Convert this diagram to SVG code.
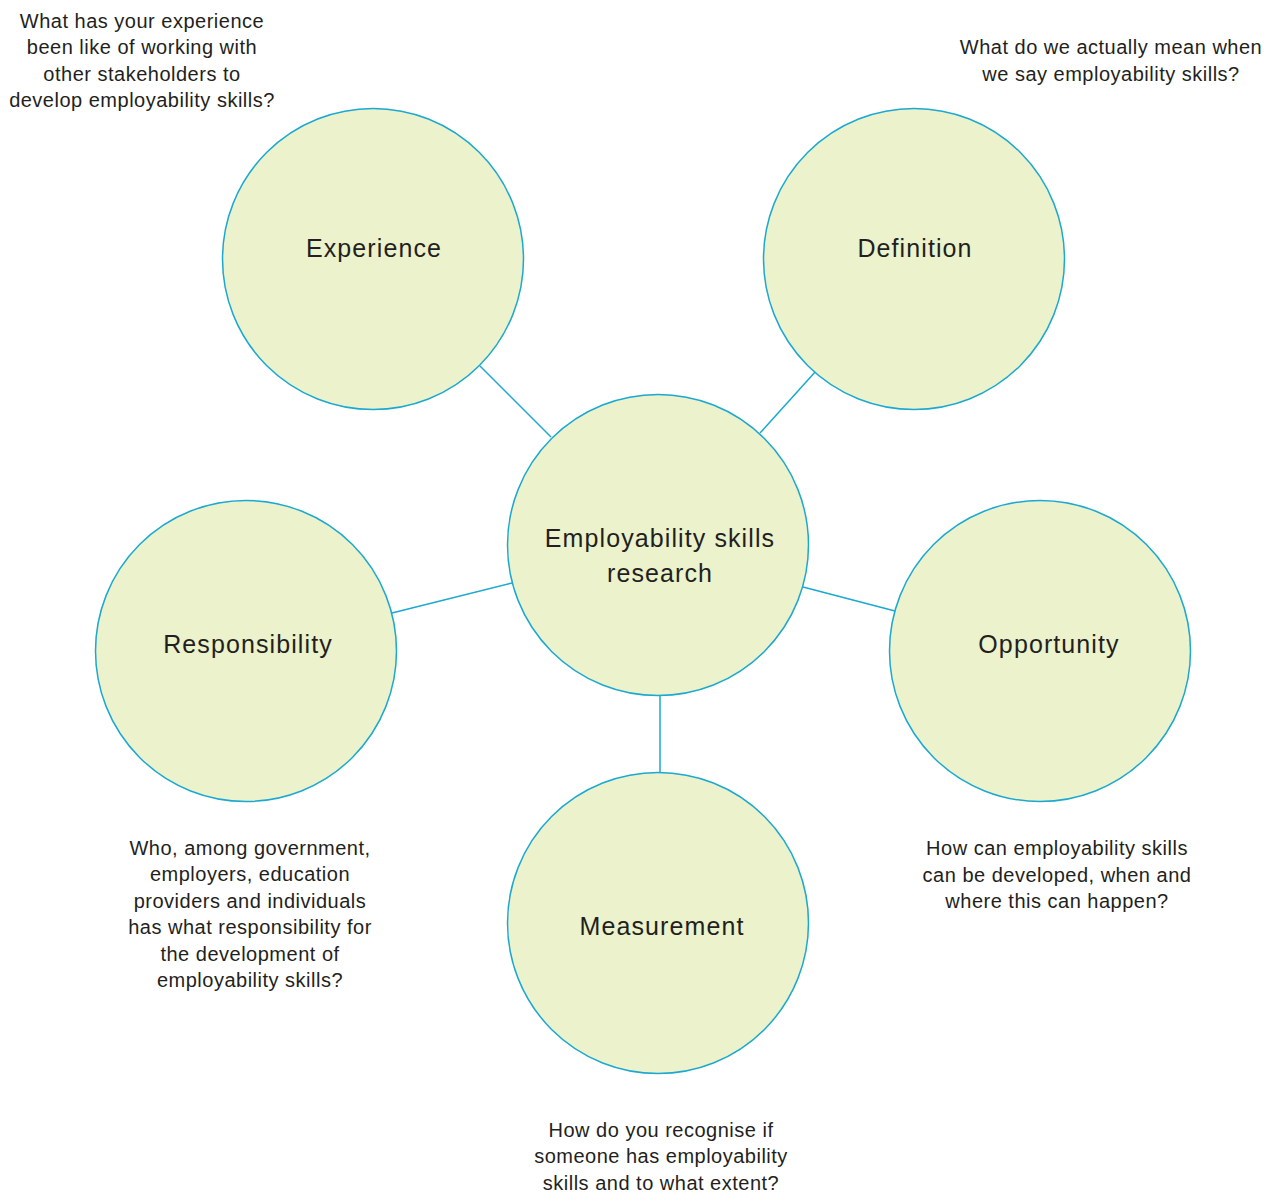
<svg xmlns="http://www.w3.org/2000/svg" width="1274" height="1195" viewBox="0 0 1274 1195">
  <style>
    .node { fill: #ebf2cc; stroke: #1ba8d1; stroke-width: 1.5; }
    .link { stroke: #1ba8d1; stroke-width: 1.5; fill: none; }
    .label { font-family: "Liberation Sans", Arial, sans-serif; font-size: 25px; letter-spacing: 1.1px; fill: #231f20; text-anchor: middle; }
    .note { font-family: "Liberation Sans", Arial, sans-serif; font-size: 20px; letter-spacing: 0.5px; fill: #231f20; text-anchor: middle; }
  </style>
  <rect width="1274" height="1195" fill="#ffffff"/>

  <g id="connectors">
    <line class="link" x1="480" y1="366" x2="551" y2="437"/>
    <line class="link" x1="816" y1="371" x2="760" y2="433"/>
    <line class="link" x1="392" y1="613" x2="512" y2="583"/>
    <line class="link" x1="803" y1="587" x2="895" y2="611"/>
    <line class="link" x1="660" y1="695" x2="660" y2="773"/>
  </g>

  <g id="experience">
    <circle class="node" cx="373" cy="259" r="150.5"/>
    <text class="label" x="374" y="257">Experience</text>
  </g>

  <g id="definition">
    <circle class="node" cx="914" cy="259" r="150.5"/>
    <text class="label" x="915" y="257">Definition</text>
  </g>

  <g id="center">
    <circle class="node" cx="658" cy="545" r="150.5"/>
    <text class="label" x="660" y="547">Employability skills</text>
    <text class="label" x="660" y="582">research</text>
  </g>

  <g id="responsibility">
    <circle class="node" cx="246" cy="651" r="150.5"/>
    <text class="label" x="248" y="653">Responsibility</text>
  </g>

  <g id="opportunity">
    <circle class="node" cx="1040" cy="651" r="150.5"/>
    <text class="label" x="1049" y="653">Opportunity</text>
  </g>

  <g id="measurement">
    <circle class="node" cx="658" cy="923" r="150.5"/>
    <text class="label" x="662" y="935">Measurement</text>
  </g>

  <g id="notes">
    <text class="note" x="142" y="28">What has your experience</text>
    <text class="note" x="142" y="54">been like of working with</text>
    <text class="note" x="142" y="81">other stakeholders to</text>
    <text class="note" x="142" y="107">develop employability skills?</text>

    <text class="note" x="1111" y="54">What do we actually mean when</text>
    <text class="note" x="1111" y="81">we say employability skills?</text>

    <text class="note" x="250" y="855">Who, among government,</text>
    <text class="note" x="250" y="881">employers, education</text>
    <text class="note" x="250" y="908">providers and individuals</text>
    <text class="note" x="250" y="934">has what responsibility for</text>
    <text class="note" x="250" y="961">the development of</text>
    <text class="note" x="250" y="987">employability skills?</text>

    <text class="note" x="1057" y="855">How can employability skills</text>
    <text class="note" x="1057" y="882">can be developed, when and</text>
    <text class="note" x="1057" y="908">where this can happen?</text>

    <text class="note" x="661" y="1137">How do you recognise if</text>
    <text class="note" x="661" y="1163">someone has employability</text>
    <text class="note" x="661" y="1190">skills and to what extent?</text>
  </g>
</svg>
